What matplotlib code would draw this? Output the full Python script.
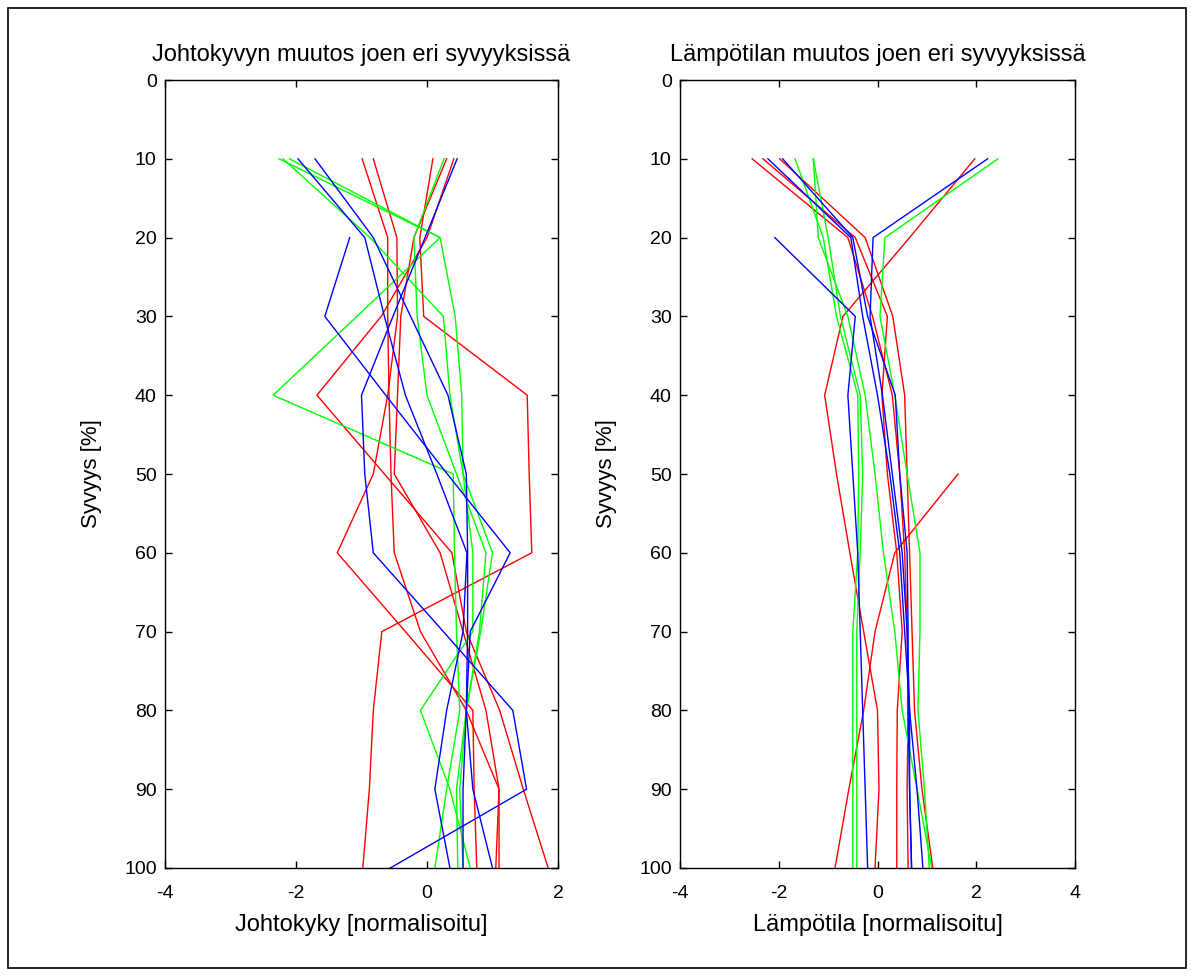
import numpy as np
import matplotlib
matplotlib.use("Agg")
import matplotlib.pyplot as plt
from matplotlib.patches import Rectangle

plt.rcParams["font.family"] = ["Liberation Sans", "DejaVu Sans"]
plt.rcParams["axes.unicode_minus"] = False

depth = [10, 20, 30, 40, 50, 60, 70, 80, 90, 100]
nan = np.nan

# Johtokyky (conductivity), normalised
cond_red = [
    [-0.99, -0.60, -0.60, -0.58, -0.55, -0.50, -0.10, 0.60, 1.10, 1.05],
    [-0.82, -0.46, -0.45, -0.60, -0.82, -1.37, -0.33, 0.70, 0.72, 0.76],
    [0.09, -0.11, -0.05, 1.53, 1.56, 1.60, -0.69, -0.82, -0.88, -0.98],
    [0.41, 0.00, -0.70, -1.68, -0.65, 0.38, 0.60, 1.11, 1.47, 1.85],
    [0.30, -0.20, -0.40, -0.45, -0.50, 0.20, 0.55, 0.90, 1.10, 1.10],
]
cond_green = [
    [-2.26, 0.20, 0.43, 0.53, 0.55, 1.00, 0.82, 0.60, 0.45, 0.47],
    [-2.10, 0.20, -1.07, -2.35, 0.40, 0.42, 0.45, 0.50, 0.30, 0.12],
    [-2.20, -0.87, 0.25, 0.35, 0.55, 0.70, 0.70, -0.10, 0.35, 0.66],
    [0.26, -0.20, -0.15, 0.00, 0.45, 0.90, 0.80, 0.60, 0.50, 0.55],
]
cond_blue = [
    [-1.97, -0.95, -0.65, -0.33, 0.15, 0.61, 0.55, 0.30, 0.12, 0.35],
    [nan, -1.18, -1.56, -0.63, 0.31, 1.27, 0.66, 0.60, 0.55, 0.55],
    [0.46, -0.03, -0.52, -1.00, -0.95, -0.82, 0.25, 1.31, 1.52, -0.56],
    [-1.71, -0.82, -0.25, 0.32, 0.60, 0.62, 0.62, 0.60, 0.70, 1.00],
]

# Lämpötila (temperature), normalised
temp_red = [
    [1.97, 0.65, -0.70, -1.07, -0.83, -0.56, -0.28, 0.00, 0.03, -0.05],
    [-1.98, -0.25, 0.31, 0.55, 0.60, 0.65, 0.70, 0.75, 0.90, 1.12],
    [-2.32, -0.45, 0.20, 0.09, 0.20, 0.39, 0.50, 0.40, 0.39, 0.39],
    [-2.54, -0.60, -0.10, 0.30, 0.45, 0.55, 0.60, 0.62, 0.60, 0.62],
    [nan, nan, nan, nan, 1.63, 0.35, -0.05, -0.28, -0.58, -0.86],
]
temp_green = [
    [-1.67, -1.10, -0.83, -0.40, -0.38, -0.40, -0.50, -0.50, -0.50, -0.50],
    [-1.30, -1.20, -0.60, -0.25, -0.05, 0.12, 0.35, 0.50, 0.80, 1.10],
    [2.44, 0.15, 0.05, 0.35, 0.60, 0.86, 0.86, 0.82, 0.95, 1.05],
    [-1.30, -1.00, -0.75, -0.35, -0.30, -0.35, -0.42, -0.42, -0.42, -0.42],
]
temp_blue = [
    [nan, -2.08, -0.45, -0.60, -0.50, -0.40, -0.35, -0.30, -0.25, -0.20],
    [2.23, -0.09, -0.15, 0.10, 0.30, 0.50, 0.60, 0.65, 0.65, 0.69],
    [-2.22, -0.54, -0.30, 0.00, 0.25, 0.45, 0.55, 0.65, 0.80, 0.92],
    [-1.92, -0.50, -0.20, 0.36, 0.45, 0.60, 0.62, 0.62, 0.65, 0.69],
]

W, H = 1194, 976
fig = plt.figure(figsize=(W / 100, H / 100), dpi=100)
fig.patches.append(Rectangle((8 / W, 8 / H), 1178 / W, 960 / H, transform=fig.transFigure,
                             fill=False, edgecolor="black", linewidth=1.2))


def panel(rect, red, green, blue, xlim, xticks, title, xlabel):
    ax = fig.add_axes(rect)
    for series, col in ((red, "#ff0000"), (green, "#00ff00"), (blue, "#0000ff")):
        for xs in series:
            ax.plot(xs, depth, color=col, linewidth=1.0)
    ax.set_xlim(*xlim)
    ax.set_ylim(100, 0)
    ax.set_xticks(xticks)
    ax.set_yticks(range(0, 101, 10))
    ax.tick_params(direction="in", top=True, right=True, length=5, width=1,
                   labelsize=14)
    ax.tick_params(axis="x", pad=12)
    ax.tick_params(axis="y", pad=6)
    for s in ax.spines.values():
        s.set_linewidth(1.0)
    ax.set_title(title, fontsize=17, pad=14)
    ax.set_xlabel(xlabel, fontsize=17, labelpad=9)
    ax.set_ylabel("Syvyys [%]", fontsize=16, labelpad=16)
    return ax


panel([165 / W, 108 / H, 393 / W, 788 / H], cond_red, cond_green, cond_blue,
      (-4, 2), [-4, -2, 0, 2], "Johtokyvyn muutos joen eri syvyyksissä",
      "Johtokyky [normalisoitu]")
panel([680 / W, 108 / H, 395 / W, 788 / H], temp_red, temp_green, temp_blue,
      (-4, 4), [-4, -2, 0, 2, 4], "Lämpötilan muutos joen eri syvyyksissä",
      "Lämpötila [normalisoitu]")

fig.savefig("out.png", dpi=100)
